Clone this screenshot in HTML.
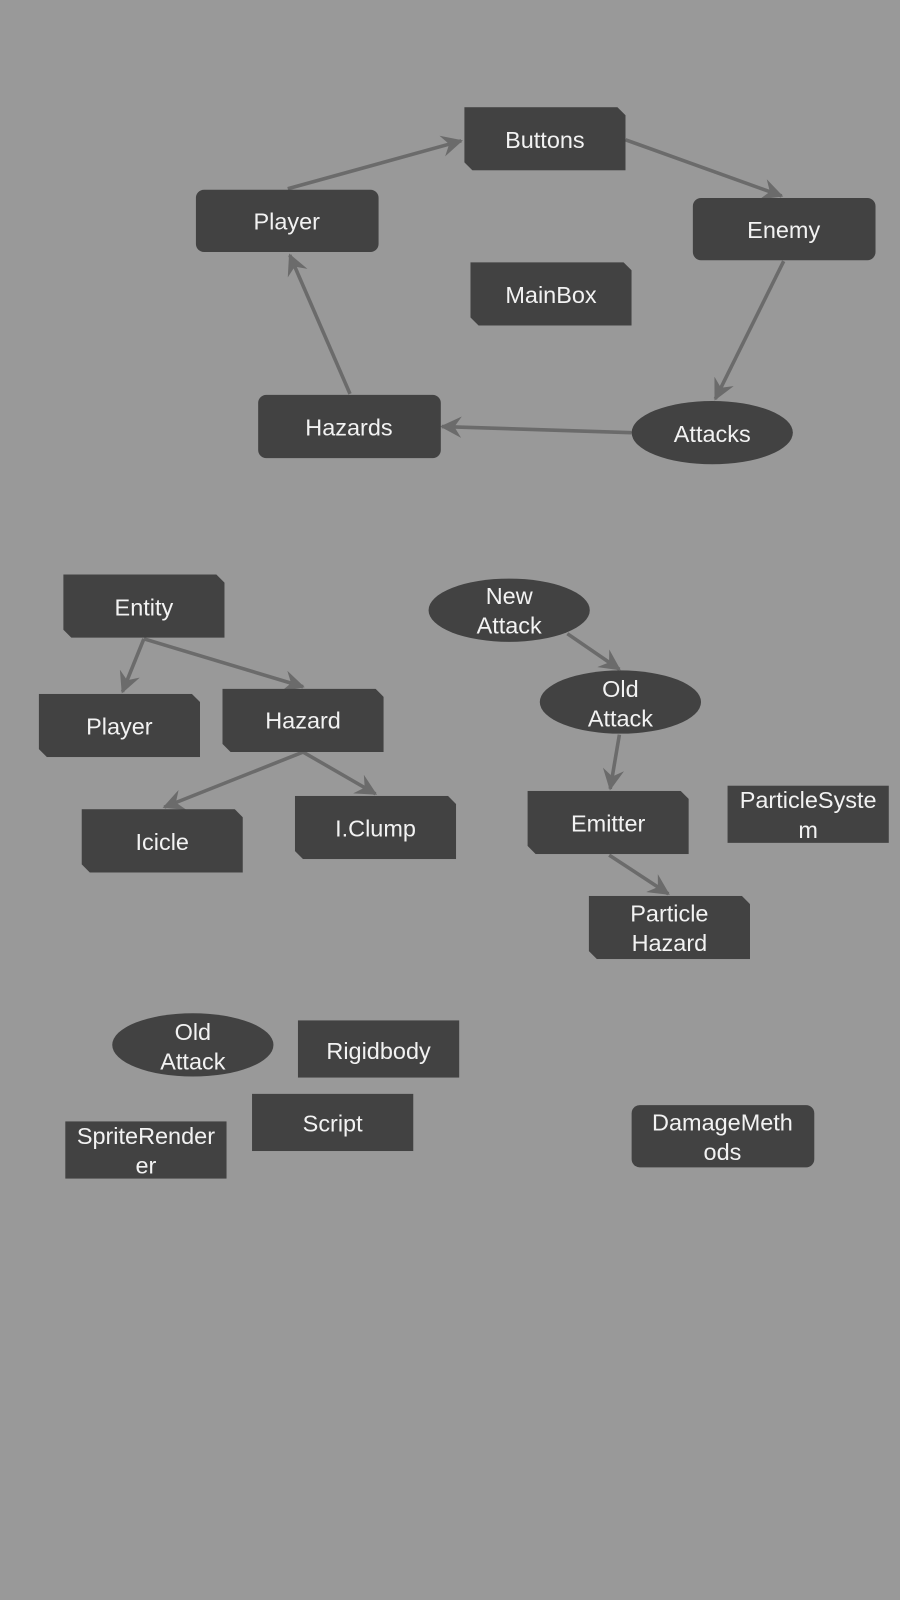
<!DOCTYPE html>
<html><head><meta charset="utf-8"><style>
html,body{margin:0;padding:0;background:#999999;}
svg{display:block}
text{font-family:"Liberation Sans",sans-serif;font-size:23px;fill:#f2f2f2;text-anchor:middle;}
</style></head><body>
<svg width="900" height="1600" viewBox="0 0 882 1568" xmlns="http://www.w3.org/2000/svg">
<defs>
<marker id="a" viewBox="0 0 12 12" refX="11" refY="6" markerWidth="6" markerHeight="6" orient="auto" markerUnits="strokeWidth">
<path d="M0,0 L12,6 L0,12 L4,6 z" fill="#6b6b6b"/>
</marker>
<symbol id="cut" viewBox="0 0 158 62" width="158" height="62"><path d="M0,0 H150 L158,8 V62 H8 L0,54 Z" fill="#424242"/></symbol>
</defs>
<rect width="882" height="1568" fill="#999999"/>
<g stroke="#6b6b6b" stroke-width="3.5" fill="none" marker-end="url(#a)">
<line x1="282" y1="185" x2="452" y2="138"/>
<line x1="613" y1="137" x2="766" y2="192"/>
<line x1="768" y1="256" x2="701" y2="391"/>
<line x1="619" y1="424" x2="433" y2="418"/>
<line x1="343" y1="386" x2="284" y2="250"/>
<line x1="141" y1="626" x2="120" y2="678"/>
<line x1="141" y1="626" x2="297" y2="673"/>
<line x1="297" y1="737" x2="161" y2="791"/>
<line x1="297" y1="737" x2="368" y2="778"/>
<line x1="556" y1="621" x2="607" y2="656"/>
<line x1="607" y1="720" x2="598" y2="773"/>
<line x1="597" y1="838" x2="655" y2="876"/>
</g>
<g fill="#424242">
<use href="#cut" x="455" y="105"/>
<rect x="192" y="186" width="179" height="61" rx="8"/>
<rect x="679" y="194" width="179" height="61" rx="8"/>
<use href="#cut" x="461" y="257"/>
<rect x="253" y="387" width="179" height="62" rx="8"/>
<ellipse cx="698" cy="424" rx="79" ry="31"/>
<use href="#cut" x="62" y="563"/>
<use href="#cut" x="38" y="680"/>
<use href="#cut" x="218" y="675"/>
<use href="#cut" x="80" y="793"/>
<use href="#cut" x="289" y="780"/>
<ellipse cx="499" cy="598" rx="79" ry="31"/>
<ellipse cx="608" cy="688" rx="79" ry="31"/>
<use href="#cut" x="517" y="775"/>
<rect x="713" y="770" width="158" height="56"/>
<use href="#cut" x="577" y="878"/>
<ellipse cx="189" cy="1024" rx="79" ry="31"/>
<rect x="292" y="1000" width="158" height="56"/>
<rect x="247" y="1072" width="158" height="56"/>
<rect x="64" y="1099" width="158" height="56"/>
<rect x="619" y="1083" width="179" height="61" rx="8"/>
</g>
<text x="534" y="145">Buttons</text>
<text x="281" y="225">Player</text>
<text x="768" y="233">Enemy</text>
<text x="540" y="297">MainBox</text>
<text x="342" y="427">Hazards</text>
<text x="698" y="433">Attacks</text>
<text x="141" y="603">Entity</text>
<text x="117" y="720">Player</text>
<text x="297" y="714">Hazard</text>
<text x="159" y="833">Icicle</text>
<text x="368" y="820">I.Clump</text>
<text x="499" y="592">New</text><text x="499" y="621">Attack</text>
<text x="608" y="683">Old</text><text x="608" y="712">Attack</text>
<text x="596" y="815">Emitter</text>
<text x="792" y="792">ParticleSyste</text><text x="792" y="821">m</text>
<text x="656" y="903">Particle</text><text x="656" y="932">Hazard</text>
<text x="189" y="1019">Old</text><text x="189" y="1048">Attack</text>
<text x="371" y="1038">Rigidbody</text>
<text x="326" y="1109">Script</text>
<text x="143" y="1121">SpriteRender</text><text x="143" y="1150">er</text>
<text x="708" y="1108">DamageMeth</text><text x="708" y="1137">ods</text>
</svg>
</body></html>
